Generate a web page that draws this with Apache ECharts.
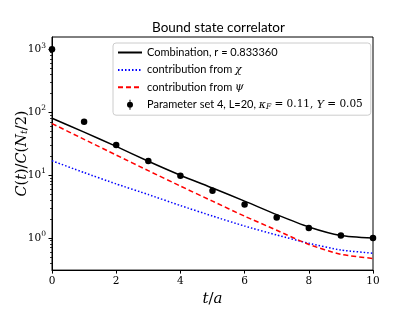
<!DOCTYPE html>
<html>
<head>
<meta charset="utf-8">
<script src="https://cdn.jsdelivr.net/npm/echarts@6/dist/echarts.min.js"></script>
<style>html,body{margin:0;padding:0;background:#fff}#c{width:415px;height:312px}</style>
</head>
<body>
<div id="c"></div>
<script>
const tValues = [0, 1, 2, 3, 4, 5, 6, 7, 8, 9, 10];
const dataPoints = [1000, 70, 30, 16.6, 9.7, 5.6, 3.4, 2.1, 1.44, 1.09, 0.99];
const combination = [79.5, 48, 28.4, 16.5, 9.9, 6.2, 3.84, 2.34, 1.49, 1.09, 0.99];
const chiContribution = [16.8, 10.9, 7.2, 4.88, 3.26, 2.22, 1.54, 1.11, 0.82, 0.64, 0.57];
const psiContribution = [65.6, 36.8, 20.7, 11.7, 6.65, 3.83, 2.21, 1.32, 0.785, 0.545, 0.47];
const xTicks = [0, 2, 4, 6, 8, 10];
const yMajorTicks = [1, 10, 100, 1000];
const yMinorTicks = [0.4, 0.5, 0.6, 0.7, 0.8, 0.9, 2, 3, 4, 5, 6, 7, 8, 9, 20, 30, 40, 50, 60, 70, 80, 90, 200, 300, 400, 500, 600, 700, 800, 900];

const pairs = arr => tValues.map((t, i) => [t, arr[i]]);
const serif = 'DejaVu Serif';
const chart = echarts.init(document.getElementById('c'));
const errIcon = 'path://M0,0 L0,0 Z M24,10 L24,10 Z M11.5,0 L12.5,0 L12.5,10 L11.5,10 Z M12,2 A3,3 0 1,1 12,8 A3,3 0 1,1 12,2 Z';

chart.setOption({
  animation: false,
  title: {
    text: 'Bound state correlator',
    left: 147, top: 16,
    textStyle: { fontFamily: 'Lato', fontSize: 13.5, fontWeight: 'normal', color: '#000' }
  },
  grid: { left: 52, right: 42, top: 37, bottom: 39, show: true, borderColor: '#000', borderWidth: 1, backgroundColor: 'transparent' },
  legend: {
    orient: 'vertical', left: 113, top: 43,
    backgroundColor: 'rgba(255,255,255,0.85)', borderColor: '#ccc', borderWidth: 1, borderRadius: 3,
    padding: [4, 8, 4, 4], itemWidth: 24, itemHeight: 10, itemGap: 6.4,
    data: [
      { name: 'Combination, r = 0.833360', itemStyle: { opacity: 0 } },
      { name: 'contribution from χ', itemStyle: { opacity: 0 } },
      { name: 'contribution from ψ', itemStyle: { opacity: 0 } },
      { name: 'Parameter set 4', icon: errIcon }
    ],
    formatter: function (name) {
      if (name === 'contribution from χ') return 'contribution from {m|χ}';
      if (name === 'contribution from ψ') return 'contribution from {m|ψ}';
      if (name === 'Parameter set 4') return 'Parameter set 4, L=20, {m|κ}{sub|F}{n| = 0.11, }{m|Y}{n| = 0.05}';
      return name;
    },
    textStyle: {
      fontFamily: 'Lato', fontSize: 11, color: '#000',
      rich: {
        m: { fontFamily: serif, fontStyle: 'italic', fontSize: 11 },
        n: { fontFamily: serif, fontSize: 10.5 },
        sub: { fontFamily: serif, fontStyle: 'italic', fontSize: 7.5, verticalAlign: 'bottom', padding: [5, 0, 0, 0] }
      }
    }
  },
  xAxis: {
    type: 'value', min: 0, max: 10, interval: 2,
    name: '{i|t}{n|/}{i|a}', nameLocation: 'middle', nameGap: 21,
    nameTextStyle: { rich: { i: { fontFamily: serif, fontStyle: 'italic', fontSize: 15 }, n: { fontFamily: serif, fontSize: 15 } } },
    axisLine: { lineStyle: { color: '#000', width: 1 } },
    axisTick: { show: true, length: 3.5, lineStyle: { color: '#000' } },
    axisLabel: { fontFamily: serif, fontSize: 10.5, color: '#000', margin: 6 },
    splitLine: { show: false }
  },
  yAxis: [
    {
      type: 'log', logBase: 10, min: 0.307, max: 1560,
      name: '{i|C}{n|(}{i|t}{n|)/}{i|C}{n|(}{i|N}{s|t}{n|/2)}', nameLocation: 'middle', nameGap: 22, nameRotate: 90,
      nameMoveOverlap: false,
      nameTextStyle: { rich: {
        i: { fontFamily: serif, fontStyle: 'italic', fontSize: 14.5 },
        n: { fontFamily: serif, fontSize: 14.5 },
        s: { fontFamily: serif, fontStyle: 'italic', fontSize: 9.5, verticalAlign: 'bottom', padding: [6, 0, 0, 0] }
      } },
      axisLine: { show: true, lineStyle: { color: '#000', width: 1 } },
      axisTick: { show: true, length: 3.5, lineStyle: { color: '#000' }, customValues: yMajorTicks },
      axisLabel: {
        customValues: yMajorTicks, margin: 6, color: '#000',
        formatter: function (v) { return '{b|10}{e|' + Math.round(Math.log10(v)) + '}'; },
        rich: { b: { fontFamily: serif, fontSize: 10.5 }, e: { fontFamily: serif, fontSize: 7.5, verticalAlign: 'top', padding: [0, 0, 7, 0] } }
      },
      splitLine: { show: false }
    },
    {
      type: 'log', logBase: 10, min: 0.307, max: 1560, position: 'left',
      axisLine: { show: false },
      axisTick: { show: true, length: 2, lineStyle: { color: '#000', width: 0.8 }, customValues: yMinorTicks },
      axisLabel: { show: false },
      splitLine: { show: false }
    }
  ],
  series: [
    {
      name: 'Combination, r = 0.833360', type: 'line', data: pairs(combination), symbol: 'none', smooth: 0.2,
      lineStyle: { color: '#000', width: 1.5 }, itemStyle: { color: '#000' }
    },
    {
      name: 'contribution from χ', type: 'line', data: pairs(chiContribution), symbol: 'none', smooth: 0.2,
      lineStyle: { color: '#0000ff', width: 1.5, type: [1.5, 2] }, itemStyle: { color: '#0000ff' }
    },
    {
      name: 'contribution from ψ', type: 'line', data: pairs(psiContribution), symbol: 'none', smooth: 0.2,
      lineStyle: { color: '#ff0000', width: 1.5, type: [5, 3] }, itemStyle: { color: '#ff0000' }
    },
    {
      name: 'Parameter set 4', type: 'scatter', data: pairs(dataPoints), symbol: 'circle', symbolSize: 6.5,
      itemStyle: { color: '#000', opacity: 1 }, clip: false, z: 5
    }
  ]
});
</script>
</body>
</html>
